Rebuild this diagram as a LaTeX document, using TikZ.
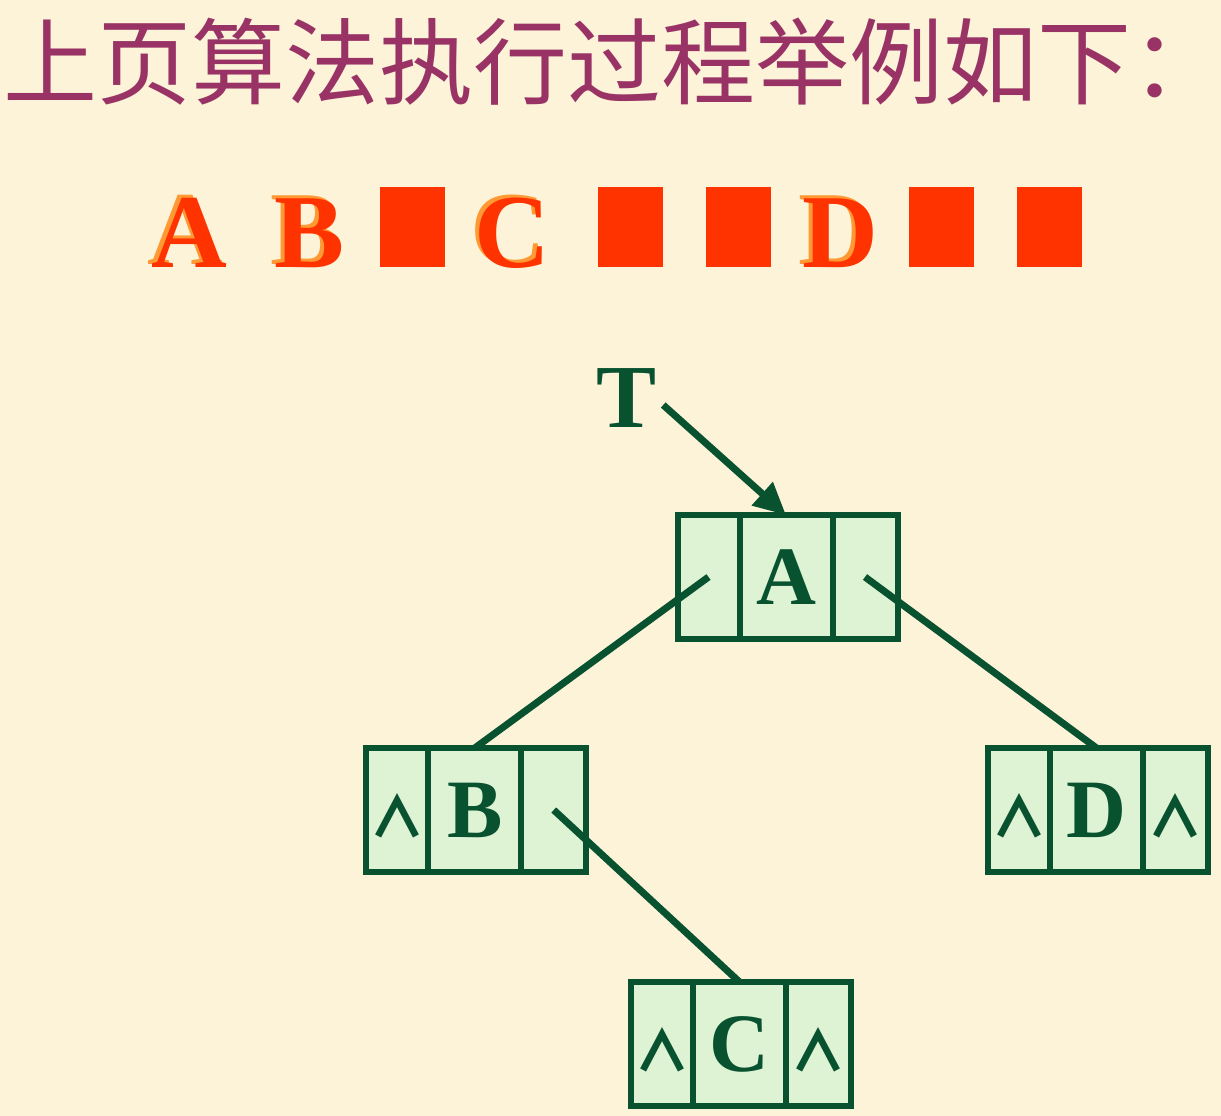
\documentclass[tikz,border=0pt]{standalone}
\usepackage{fontspec}
\setmainfont{Liberation Serif}[BoldFont={Liberation Serif Bold}]
\newfontfamily\cjkfont{Noto Sans CJK SC}
\usetikzlibrary{arrows.meta,positioning}
\definecolor{bgcream}{RGB}{252,243,216}
\definecolor{titlepurple}{RGB}{153,51,102}
\definecolor{seqred}{RGB}{255,51,0}
\definecolor{seqshade}{RGB}{255,153,51}
\definecolor{treegreen}{RGB}{8,82,48}
\definecolor{cellgreen}{RGB}{222,242,212}
\tikzset{
  cell/.style={draw=treegreen, fill=cellgreen, line width=6pt, inner sep=0pt, outer sep=0pt,
    minimum height=124pt, text height=55pt, text depth=0pt, text=treegreen,
    font=\fontsize{83}{83}\selectfont\bfseries},
  ptrcell/.style={cell, font=\cjkfont\bfseries\fontsize{56}{56}\selectfont},
  seqletter/.style={anchor=base, inner sep=0pt, font=\fontsize{105}{105}\selectfont\bfseries},
  nullbox/.style={fill=seqred, inner sep=0pt, minimum width=65pt, minimum height=80pt},
  link/.style={draw=treegreen, line width=7pt}
}

\begin{document}
\begin{tikzpicture}[x=1pt,y=-1pt]
    % background
    \useasboundingbox (0,0) rectangle (1221,1116);
    \fill[bgcream] (0,0) rectangle (1221,1116);

    % Title
    \node[anchor=west, inner sep=0pt, text=titlepurple, font=\cjkfont\fontsize{94}{94}\selectfont] (title) at (3,62) {上页算法执行过程举例如下：};

    % Input sequence, letters with shadow
    \foreach \n/\x in {A/189, B/310, C/512, D/840}{
        \node[seqletter, text=seqshade] (sh\n) at (\x-4,264) {\n};
        \node[seqletter, text=seqred] (seq\n) at (\x,267) {\n};
    }
    % Empty subtrees
    \foreach \x [count=\i] in {412.5, 630.5, 738.5, 941.5, 1049.5}
        \node[nullbox] (null\i) at (\x,227) {};

    % Root pointer
    \node[inner sep=3pt, text=treegreen, font=\fontsize{90}{90}\selectfont\bfseries] (T) at (627,398) {T};

    % Binary linked list nodes
    \foreach \n/\x/\y/\p/\q in {A/786/577//, B/474.75/810/∧/, D/1096.5/810/∧/∧, C/739.5/1044/∧/∧}{
        \node[cell, minimum width=93pt] (\n) at (\x,\y) {\n};
        \node[ptrcell, minimum width=62pt, left=0pt of \n] (\n-l) {\p};
        \node[ptrcell, minimum width=65pt, right=0pt of \n] (\n-r) {\q};
    }

    % Links
    \draw[link, -{Triangle[length=32pt,width=30pt]}] ([shift={(3,7)}]T.east) -- (A.north);
    \draw[link] (A-l.center) -- (B.north);
    \draw[link] (A-r.center) -- (D.north);
    \draw[link] (B-r.center) -- (C.north);
\end{tikzpicture}
\end{document}
